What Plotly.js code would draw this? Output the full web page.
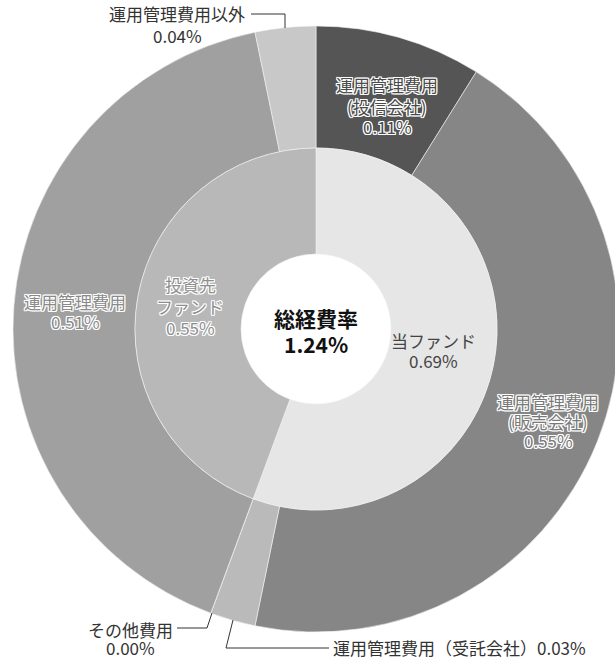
<!DOCTYPE html>
<html>
<head>
<meta charset="utf-8">
<script src="https://cdn.plot.ly/plotly-3.0.1.min.js"></script>
<style>
html,body{margin:0;padding:0;overflow:hidden;background:#fff;width:615px;height:659px;}
#chart{width:630px;height:659px;}
</style>
</head>
<body>
<div id="chart"></div>
<script>
// ---- data ----
const innerLabels = ["当ファンド", "投資先ファンド"];
const innerValues = [0.69, 0.55];
const innerColors = ["#e6e6e6", "#b8b8b8"];

const outerLabels = ["運用管理費用（投信会社）", "運用管理費用（販売会社）", "運用管理費用（受託会社）", "その他費用", "運用管理費用", "運用管理費用以外"];
const outerValues = [0.11, 0.55, 0.03, 0.00, 0.51, 0.04];
const outerColors = ["#555555", "#868686", "#bababa", "#bababa", "#a0a0a0", "#c8c8c8"];

const totalLabel = "総経費率";
const totalValue = 1.24;

// ---- geometry helpers (pixel -> paper) ----
const W = 630, H = 659;
const px = x => x / W;
const py = y => (H - y) / H;
const cx = 316, cy = 329, R_out = 303, R_in = 181, R_hole = 75;

const FONT = '"Noto Sans CJK JP", "Noto Sans", sans-serif';
const FS = 17;
const fmt = v => v.toFixed(2) + "%";
const halo = "1px 1px 0 #fff, -1px -1px 0 #fff, 1px -1px 0 #fff, -1px 1px 0 #fff, 0 1px 0 #fff, 0 -1px 0 #fff, 1px 0 0 #fff, -1px 0 0 #fff";
// split "運用管理費用（xx会社）" into two lines with narrow parentheses
const splitParen = s => { const i = s.indexOf("（"); return [s.slice(0, i), "(" + s.slice(i + 1, s.length - 1) + ")"]; };

const outer = {
  type: "pie", values: outerValues, labels: outerLabels, sort: false,
  direction: "clockwise", rotation: 0, hole: R_in / R_out,
  marker: {colors: outerColors, line: {color: "#f2f2f2", width: 0.6}},
  textinfo: "none", hoverinfo: "label+value", showlegend: false,
  domain: {x: [px(cx - R_out), px(cx + R_out)], y: [py(cy + R_out), py(cy - R_out)]}
};
const inner = {
  type: "pie", values: innerValues, labels: innerLabels, sort: false,
  direction: "clockwise", rotation: 0, hole: R_hole / R_in,
  marker: {colors: innerColors, line: {color: "#f2f2f2", width: 0.6}},
  textinfo: "none", hoverinfo: "label+value", showlegend: false,
  domain: {x: [px(cx - R_in), px(cx + R_in)], y: [py(cy + R_in), py(cy - R_in)]}
};

function ann(x, y, text, opts) {
  opts = opts || {};
  return Object.assign({
    xref: "paper", yref: "paper", x: px(x), y: py(y), text: text,
    showarrow: false, xanchor: "center", yanchor: "middle", align: "center",
    font: {family: FONT, size: opts.size || FS, color: opts.color || "#333",
           weight: opts.weight || "normal",
           shadow: opts.halo ? halo : "none"}
  }, opts.extra || {});
}
// one annotation per line
function block(x, ys, lines, opts) {
  return lines.map((t, i) => ann(x, ys[i], t, opts));
}

const annotations = [].concat(
  block(cx, [318, 344], [totalLabel, fmt(totalValue)], {color: "#111", size: 21, weight: "bold"}),
  block(433, [340, 360], [innerLabels[0], fmt(innerValues[0])], {color: "#444"}),
  block(190, [284, 306, 327], ["投資先", "ファンド", fmt(innerValues[1])], {color: "#8e8e8e", halo: true}),
  block(387, [85, 106, 126], splitParen(outerLabels[0]).concat([fmt(outerValues[0])]), {color: "#4a4a4a", halo: true}),
  block(548, [401, 421, 441], splitParen(outerLabels[1]).concat([fmt(outerValues[1])]), {color: "#7a7a7a", halo: true}),
  block(75, [301, 321], [outerLabels[4], fmt(outerValues[4])], {color: "#8a8a8a", halo: true}),
  block(177, [14, 35], [outerLabels[5], fmt(outerValues[5])], {color: "#333"}),
  block(130, [629, 647], [outerLabels[3], fmt(outerValues[3])], {color: "#333"}),
  [ann(331, 647, outerLabels[2] + fmt(outerValues[2]), {color: "#333", extra: {xanchor: "left"}})]
);

const lineStyle = {color: "#333", width: 1};
const seg = (x0, y0, x1, y1) => ({type: "line", xref: "paper", yref: "paper",
  x0: px(x0), y0: py(y0), x1: px(x1), y1: py(y1), line: lineStyle});
const shapes = [
  seg(251, 14, 285, 14), seg(285, 14, 285, 28),
  seg(177, 628, 207, 628), seg(207, 628, 212, 613),
  seg(233, 620, 226, 648), seg(226, 648, 329, 648)
];

Plotly.newPlot("chart", [outer, inner], {
  width: W, height: H, margin: {l: 0, r: 0, t: 0, b: 0},
  paper_bgcolor: "#fff", showlegend: false,
  annotations: annotations, shapes: shapes,
  font: {family: FONT}
}, {displayModeBar: false, staticPlot: true});
</script>
</body>
</html>
